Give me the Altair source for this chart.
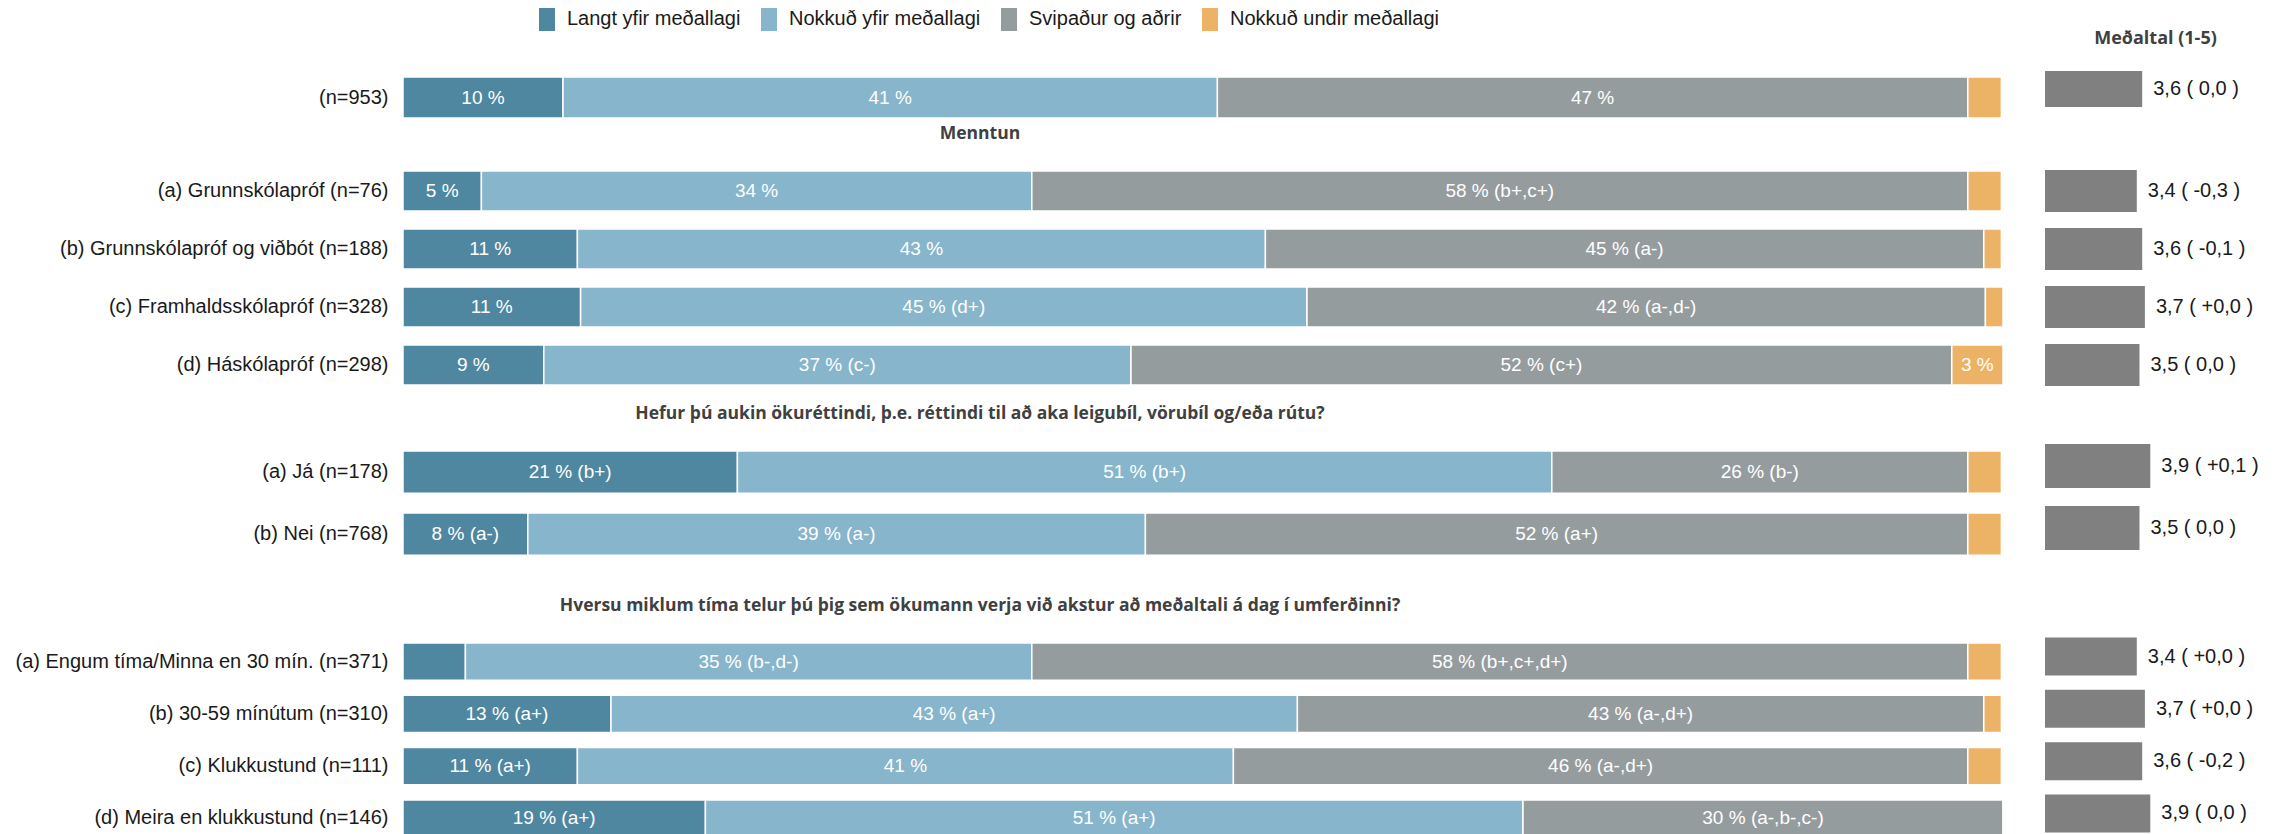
import altair as alt
import pandas as pd

FONT = "Liberation Sans"
HFONT = "Open Sans"

categories = ["Langt yfir meðallagi", "Nokkuð yfir meðallagi", "Svipaður og aðrir", "Nokkuð undir meðallagi"]
colors = ["#4f87a0", "#87b5cb", "#959c9e", "#ecb366"]

headings = [
    "",
    "Menntun",
    "Hefur þú aukin ökuréttindi, þ.e. réttindi til að aka leigubíl, vörubíl og/eða rútu?",
    "Hversu miklum tíma telur þú þig sem ökumann verja við akstur að meðaltali á dag í umferðinni?",
]

row_labels = [
    "(n=953)",
    "(a) Grunnskólapróf (n=76)",
    "(b) Grunnskólapróf og viðbót (n=188)",
    "(c) Framhaldsskólapróf (n=328)",
    "(d) Háskólapróf (n=298)",
    "(a) Já (n=178)",
    "(b) Nei (n=768)",
    "(a) Engum tíma/Minna en 30 mín. (n=371)",
    "(b) 30-59 mínútum (n=310)",
    "(c) Klukkustund (n=111)",
    "(d) Meira en klukkustund (n=146)",
]
row_group = [0, 1, 1, 1, 1, 2, 2, 3, 3, 3, 3]

langt = [10.0, 4.9, 10.9, 11.1, 8.8, 20.9, 7.8, 3.9, 13.0, 10.9, 18.9]
nokkud = [40.9, 34.4, 43.0, 45.4, 36.7, 50.9, 38.6, 35.4, 42.9, 41.0, 51.1]
svipadur = [46.9, 58.5, 44.9, 42.4, 51.3, 26.0, 51.4, 58.5, 42.9, 45.9, 30.0]
undir = [2.1, 2.1, 1.1, 1.1, 3.2, 2.1, 2.1, 2.1, 1.1, 2.1, 0.0]

lab_langt = ["10 %", "5 %", "11 %", "11 %", "9 %", "21 % (b+)", "8 % (a-)", "", "13 % (a+)", "11 % (a+)", "19 % (a+)"]
lab_nokkud = ["41 %", "34 %", "43 %", "45 % (d+)", "37 % (c-)", "51 % (b+)", "39 % (a-)", "35 % (b-,d-)", "43 % (a+)", "41 %", "51 % (a+)"]
lab_svip = ["47 %", "58 % (b+,c+)", "45 % (a-)", "42 % (a-,d-)", "52 % (c+)", "26 % (b-)", "52 % (a+)", "58 % (b+,c+,d+)", "43 % (a-,d+)", "46 % (a-,d+)", "30 % (a-,b-,c-)"]
lab_undir = ["", "", "", "", "3 %", "", "", "", "", "", ""]

means = [3.6, 3.4, 3.6, 3.7, 3.5, 3.9, 3.5, 3.4, 3.7, 3.6, 3.9]
mean_labels = ["3,6 ( 0,0 )", "3,4 ( -0,3 )", "3,6 ( -0,1 )", "3,7 ( +0,0 )", "3,5 ( 0,0 )", "3,9 ( +0,1 )",
               "3,5 ( 0,0 )", "3,4 ( +0,0 )", "3,7 ( +0,0 )", "3,6 ( -0,2 )", "3,9 ( 0,0 )"]

rows = []
series = [langt, nokkud, svipadur, undir]
series_labels = [lab_langt, lab_nokkud, lab_svip, lab_undir]
for i, lab in enumerate(row_labels):
    for ci in range(4):
        rows.append({"label": lab, "group": row_group[i], "cat": categories[ci], "ci": ci,
                     "pct": series[ci][i], "txt": series_labels[ci][i]})
seg_df = pd.DataFrame(rows)
mean_df = pd.DataFrame({"label": row_labels, "group": row_group, "mean": means, "mtxt": mean_labels})


def group_chart(g, height, p_in, p_out, align, mean_dy, mean_size, first=False):
    labels_g = [l for l, gg in zip(row_labels, row_group) if gg == g]
    d = seg_df[seg_df.group == g]
    m = mean_df[mean_df.group == g]
    yscale = alt.Scale(domain=labels_g, paddingInner=p_in, paddingOuter=p_out, align=align)
    yaxis = alt.Axis(ticks=False, domain=False, labelPadding=15, labelFontSize=20, labelFont=FONT,
                     labelColor="#1a1a1a", labelLimit=700)
    y = alt.Y("label:N", scale=yscale, axis=yaxis, title=None)
    xs = alt.Scale(domain=[0, 100], nice=False, zero=True)
    base = alt.Chart(d).transform_stack(
        stack="pct", groupby=["label"], as_=["x0", "x1"], sort=[alt.SortField("ci", order="ascending")]
    ).transform_calculate(mid="(datum.x0 + datum.x1) / 2")
    bars = base.mark_bar(stroke="white", strokeWidth=1.5).encode(
        x=alt.X("x0:Q", scale=xs, axis=None),
        x2="x1:Q",
        y=y,
        color=alt.Color("cat:N", scale=alt.Scale(domain=categories, range=colors), title=None),
    )
    texts = base.mark_text(color="white", font=FONT, fontSize=19).encode(
        x=alt.X("mid:Q", scale=xs, axis=None), y=y, text="txt:N"
    )
    mscale = alt.Scale(domain=[0, 5], range=[1642, 1777], nice=False, zero=True)
    if first:
        maxis = alt.Axis(orient="top", title="Meðaltal (1-5)", labels=False, ticks=False, domain=False,
                         grid=False, titleX=1752, titleY=-32, titleBaseline="middle", titleAlign="center",
                         titleFont=HFONT, titleFontSize=18, titleFontWeight="bold", titleColor="#404040")
    else:
        maxis = None
    mbars = alt.Chart(m).mark_bar(color="#808080", size=mean_size, yOffset=mean_dy).encode(
        x=alt.X("mean:Q", scale=mscale, axis=maxis), y=y
    )
    mtext = alt.Chart(m).mark_text(align="left", dx=11, font=FONT, fontSize=20, color="#1a1a1a",
                                   yOffset=mean_dy).encode(
        x=alt.X("mean:Q", scale=mscale, axis=None), y=y, text="mtxt:N"
    )
    props = dict(width=1600, height=height)
    if headings[g]:
        props["title"] = alt.TitleParams(text=headings[g], anchor="middle", frame="group", dx=-223, offset=18.5,
                                         font=HFONT, fontSize=17.5, fontWeight="bold", color="#404040")
    return alt.layer(bars, texts, mbars, mtext).resolve_scale(x="independent").properties(**props)


c1 = group_chart(0, 51.5, 0.3, 0.0896, 0.667, -8.5, 36, first=True)
c2 = group_chart(1, 240.5, 0.31, 0.2283, 0.3776, 0, 42)
c3 = group_chart(2, 153, 0.32, 0.3939, 0.2048, -6, 44)
c4 = group_chart(3, 215, 0.29, 0.2005, 0.4769, -5, 38)

chart = alt.vconcat(c1, c2, c3, c4, spacing=3).configure_view(stroke=None).configure_legend(
    orient="none", legendX=134, legendY=-61, direction="horizontal",
    symbolType="M-1,-1.5H1V1.5H-1Z", symbolSize=256, symbolStrokeWidth=0, symbolOpacity=1,
    labelFont=FONT, labelFontSize=20, labelColor="#1a1a1a", labelOffset=10, labelLimit=400,
    columnPadding=18, padding=0,
).properties(padding={"left": 7, "top": 1, "right": 5, "bottom": 0})

chart.save("out.html", embed_options={"renderer": "svg", "actions": False})
